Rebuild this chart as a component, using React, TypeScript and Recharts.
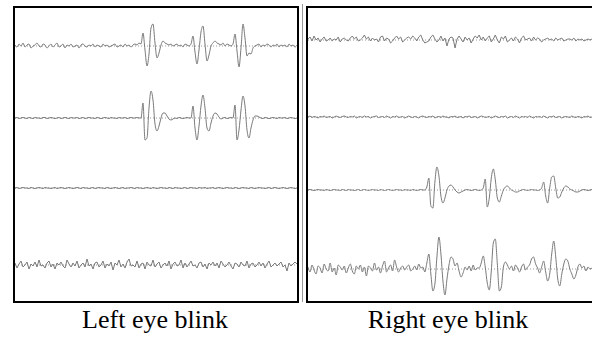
import React from 'react';
import { LineChart, Line, XAxis, YAxis, ReferenceLine } from 'recharts';

// amplitudes per channel, one value every 2 px, positive = up
const leftCh1 = [
    1, -1, 2, 0, 3, -1, 1, 2, -2, 0,
    1, 3, 0, -1, 2, 1, -2, 0, 2, -1,
    1, 3, -1, 0, 2, -2, 1, 0, 2, -1,
    0, 1, -2, 1, 2, 0, -1, 1, 0, 2,
    -1, 1, 0, -1, 2, 0, 1, -1, 0, 1,
    2, -1, 0, 1, -1, 2, 0, 1, -1, 1,
    2, 1, 3, 2, 13, -4, -20, -8, 18, 22,
    3, -12, -7, 1, 5, 3, 2, 1, 2, 0,
    1, 2, 0, 1, -1, 2, 1, 0, 2, 10,
    -6, -18, -4, 14, 20, 2, -15, -9, 0, 3,
    5, 3, 2, 1, 3, 0, 2, 1, 0, 2,
    12, -5, -21, -2, 22, 8, -10, -7, -8, -2,
    0, 1, 2, -1, 1, 0, 2, 1, -1, 1,
    0, 2, -1, 1, 0, 1, -1, 2, 0, 1, -1, 1
];

const leftCh2 = [
    0, 0.5, -0.5, 0, 0.5, 0, -0.5, 0.5, 0, -0.5,
    0.5, 0, 0, -0.5, 0.5, 0.5, -0.5, 0, 0.5, 0,
    -0.5, 0, 0.5, -0.5, 0, 0.5, 0, -0.5, 0.5, 0,
    0, 0.5, -0.5, 0, 0.5, -0.5, 0, 0.5, 0, 0,
    -0.5, 0.5, 0, -0.5, 0, 0.5, 0, -0.5, 0.5, 0,
    0, -0.5, 0.5, 0, 0, 0.5, -0.5, 0, 0.5, 0,
    0, 0.5, 0, 0, 15, -22, -20, 10, 27, 18,
    -6, -13, -8, 0, 5, 5, 2, -1, -2, -1,
    0, -0.5, 0.5, 0, -0.5, 0, 0.5, 0, 0, 12,
    -10, -22, -8, 12, 23, 10, -10, -13, -5, 2,
    5, 4, 1, -1, 0, 0.5, -0.5, 0, 0.5, 0,
    13, -22, -12, 8, 22, 12, -12, -20, -10, -2,
    2, 2, 1, 0, -0.5, 0.5, 0, -0.5, 0, 0.5,
    0, -0.5, 0.5, 0, 0, 0.5, -0.5, 0, 0.5, 0, -0.5, 0
];

const leftCh3 = [
    0, 0.5, -0.5, 0, 0.5, 0, 0, -0.5, 0.5, 0,
    -0.5, 0, 0.5, 0, -0.5, 0.5, 0, 0, -0.5, 0,
    0.5, -0.5, 0, 0.5, 0, -0.5, 0, 0.5, 0, -0.5,
    0, 0.5, 0, -0.5, 0.5, 0, 0, -0.5, 0, 0.5,
    -0.5, 0, 0.5, 0, 0, -0.5, 0.5, 0, -0.5, 0,
    0.5, 0, -0.5, 0, 0.5, -0.5, 0, 0, 0.5, 0,
    -0.5, 0.5, 0, 0, -0.5, 0, 0.5, 0, -0.5, 0.5,
    0, -0.5, 0, 0.5, 0, 0, -0.5, 0.5, 0, -0.5,
    0.5, 0, 0, -0.5, 0, 0.5, -0.5, 0, 0.5, 0,
    0, -0.5, 0.5, 0, 0, 0.5, -0.5, 0, 0, 0.5,
    -0.5, 0, 0.5, 0, -0.5, 0, 0.5, 0, 0, -0.5,
    0.5, 0, -0.5, 0, 0.5, 0, 0, -0.5, 0.5, 0,
    -0.5, 0, 0.5, 0, 0, -0.5, 0, 0.5, -0.5, 0,
    0.5, 0, -0.5, 0, 0.5, 0, -0.5, 0, 0.5, 0, -0.5, 0
];

const leftCh4 = [
    2, -3, 1, 4, -2, 0, 3, -4, 1, -1,
    3, -2, 5, -1, 0, -3, 2, 4, -2, 1,
    -4, 2, 0, 3, -1, -3, 5, 1, -2, 2,
    -1, 4, -3, 0, 2, -2, 6, -1, 1, -4,
    2, 3, -2, 0, 4, -3, 1, -1, 3, -5,
    2, 0, 5, -2, 1, -3, 3, 6, -1, 0,
    -2, 4, -3, 1, 2, -4, 3, 0, -1, 5,
    -2, 1, 3, -3, 0, 2, -1, 4, -4, 1,
    3, -1, 0, 5, -3, 2, -2, 1, 4, -1,
    0, -3, 2, 3, -2, 1, -4, 2, 0, 3,
    -1, 2, -3, 4, 1, -2, 0, 3, -1, -4,
    2, 1, -2, 3, 0, -1, 4, -3, 1, 2,
    -2, 0, 3, -1, 2, -3, 1, 4, -2, 0,
    2, -1, 1, 3, -2, 0, -6, 2, -1, 1, 3, 1
];

const rightCh1 = [
    1, 3, -1, 4, 0, 2, -2, 1, 3, -1,
    0, 2, -1, 1, 0, 3, -2, 1, 2, 0,
    -1, 2, 4, 1, 3, -1, 0, 2, 5, 1,
    3, -1, 2, 0, 1, -2, 3, 4, -1, 2,
    1, -3, -1, 2, 4, 1, 3, -2, 0, 2,
    3, 1, 4, 2, -1, 3, 5, 0, -3, -2,
    -1, 3, 5, 1, -2, 0, 4, -1, 2, -6,
    1, 3, 2, -8, 1, 4, 1, -2, 3, 0,
    2, -3, 1, 4, 2, 5, 0, 3, -1, 2,
    4, -2, 1, 5, 0, -3, 3, 1, 4, -2,
    0, 2, -1, 3, 1, -3, 2, 4, 0, 1,
    2, -1, 3, 0, 2, 1, -2, 0, 1, 2,
    0, 1, -1, 2, 0, 1, 2, -1, 0, 1,
    1, 0, 2, -1, 1, 0, 1, -1, 0, 1, 0, 1
];

const rightCh2 = [
    0, 1, -0.5, 0.5, 0, -1, 0.5, 0, 1, -0.5,
    0, 0.5, -1, 0, 1, 0, -0.5, 0.5, 1, 0,
    -0.5, 0.5, 0, 1, -1, 0, 0.5, -0.5, 1, 0,
    0.5, -1, 0, 0.5, 1, -0.5, 0, 0.5, -0.5, 1,
    0, -1, 0.5, 0, 1, -0.5, 0, 0.5, -1, 0,
    1, 0, -0.5, 0.5, 0, -1, 0.5, 1, 0, -0.5,
    0.5, 0, 1, -1, 0, 0.5, -0.5, 1, 0, 0,
    -1, 0.5, 0, 1, -0.5, 0, 0.5, -1, 0.5, 0,
    1, -0.5, 0, 0.5, -1, 0, 1, 0.5, -0.5, 0,
    0.5, -1, 0, 1, 0, -0.5, 0.5, 0, 1, -1,
    0, 0.5, -0.5, 1, 0, -1, 0.5, 0, 0.5, -0.5,
    1, 0, -1, 0.5, 0, 0.5, -0.5, 1, 0, -1,
    0.5, 0, 1, -0.5, 0, 0.5, -1, 0, 0.5, 0,
    -0.5, 1, 0, -0.5, 0.5, 0, -1, 0.5, 0, 1, -0.5, 0
];

const rightCh3 = [
    0, 0.5, 0, -0.5, 0, 0.5, 0, 0, -0.5, 0.5,
    0, -0.5, 0, 0.5, 0, 0, -0.5, 0.5, 0, -0.5,
    0.5, 0, 0, -0.5, 0, 0.5, -0.5, 0, 0.5, 0,
    -0.5, 0, 0.5, 0, 0, -0.5, 0.5, 0, -0.5, 0,
    0.5, 0, -0.5, 0, 0.5, 0, 0, -0.5, 0.5, 0,
    0, -0.5, 0.5, 0, -0.5, 0, 0.5, 0,
    0, 3, 12, -16, -18, 8, 23, 14, -6, -13,
    -8, 0, 4, 5, 3, 0, -2, -3, -2, -1, 0, 0.5,
    0, -0.5, 0, 0.5, 0, -0.5, 0,
    2, 11, -17, -8, 12, 21, 10, -8, -12, -6,
    0, 3, 4, 2, 0, -1, -2, -2, -1, 0,
    0.5, 0, -0.5, 0, 0.5, 0, 0, -0.5, 0,
    2, 8, -6, -13, 2, 13, 14, 2, -8, -7,
    -2, 2, 4, 3, 1, 0, -1, -2, -2, -1,
    0, 0.5, 0, -0.5, 0, 0.5
];

const rightCh4 = [
    2, -3, 4, -1, -5, 3, 1, -4, 5, 0,
    -2, 6, -3, 1, -6, 4, 2, -1, 3, -4,
    1, 5, -2, -5, 3, 0, 4, -3, 2, -7,
    3, 1, -2, 6, -1, 2, -4, 3, 8, -3,
    1, 4, -2, 9, 2, -3, 1, 3, -1, 2,
    4, -2, 0, 3, -1, 5, 1,
    2, -3, 6, 15, -5, -22, -15, 12, 32, 15,
    -12, -26, -10, 4, 12, 10, 3, 6, -2, -8,
    -4, 2, -1,
    3, -2, 4, -1, 1,
    1, 6, 13, 2, -14, -21, -2, 26, 30, 5,
    -22, -18, 2, 7, 4, 0, 3,
    -2, 4, 1, -3, 2, 5, -1, 2,
    4, 10, 12, 5, 1, -4, 2, 8, -3, -12,
    -5, 15, 28, 12, -10, -17, -5, 5, 10, 8,
    0, -5, -10, -6, 2, 5, 1, 3, -2, 2,
    0, 1
];

const captions = ['Left eye blink', 'Right eye blink'];

type TraceProps = { values: number[]; left: number; top: number; width: number; curve: 'linear' | 'monotone' };

const Trace = ({ values, left, top, width, curve }: TraceProps) => {
    const data = values.map((v, i) => ({ i, v }));
    return (
        <div style={{ position: 'absolute', left, top }}>
            <LineChart width={width} height={80} data={data} margin={{ top: 0, right: 0, bottom: 0, left: 0 }}>
                <XAxis type="number" dataKey="i" domain={[0, values.length - 1]} hide />
                <YAxis type="number" domain={[-40, 40]} hide />
                <ReferenceLine y={0} stroke="#9a9a9a" strokeDasharray="1 2" />
                <Line
                    type={curve}
                    dataKey="v"
                    stroke="#7a7a7a"
                    strokeWidth={1}
                    dot={false}
                    isAnimationActive={false}
                />
            </LineChart>
        </div>
    );
};

const App = () => {
    const leftTraces = [leftCh1, leftCh2, leftCh3, leftCh4];
    const leftBase = [45.5, 118.3, 188, 265];
    const leftCurve: ('linear' | 'monotone')[] = ['monotone', 'monotone', 'linear', 'linear'];
    const rightTraces = [rightCh1, rightCh2, rightCh3, rightCh4];
    const rightBase = [40, 117, 190, 269.3];
    const rightCurve: ('linear' | 'monotone')[] = ['linear', 'linear', 'monotone', 'monotone'];
    return (
        <div
            style={{
                position: 'absolute',
                left: 0,
                top: 0,
                width: 592,
                height: 337,
                overflow: 'hidden',
                background: '#fff',
                fontFamily: '"Liberation Serif", "Times New Roman", serif'
            }}
        >
            <div style={{ position: 'absolute', left: 13, top: 6, width: 286, height: 297, border: '2px solid #000', boxSizing: 'border-box' }} />
            <div style={{ position: 'absolute', left: 302, top: 4, width: 1, height: 298, background: '#9a9a9a' }} />
            <div style={{ position: 'absolute', left: 306, top: 6, width: 300, height: 297, border: '2px solid #000', boxSizing: 'border-box' }} />
            {leftTraces.map((t, k) => (
                <Trace key={'l' + k} values={t} left={15} top={leftBase[k] - 40} width={282} curve={leftCurve[k]} />
            ))}
            {rightTraces.map((t, k) => (
                <Trace key={'r' + k} values={t} left={308} top={rightBase[k] - 40} width={284} curve={rightCurve[k]} />
            ))}
            <div style={{ position: 'absolute', left: 5, width: 300, top: 307, textAlign: 'center', fontSize: 26, lineHeight: '26px', color: '#000' }}>
                {captions[0]}
            </div>
            <div style={{ position: 'absolute', left: 298, width: 300, top: 307, textAlign: 'center', fontSize: 26, lineHeight: '26px', color: '#000' }}>
                {captions[1]}
            </div>
        </div>
    );
};

export default App;
